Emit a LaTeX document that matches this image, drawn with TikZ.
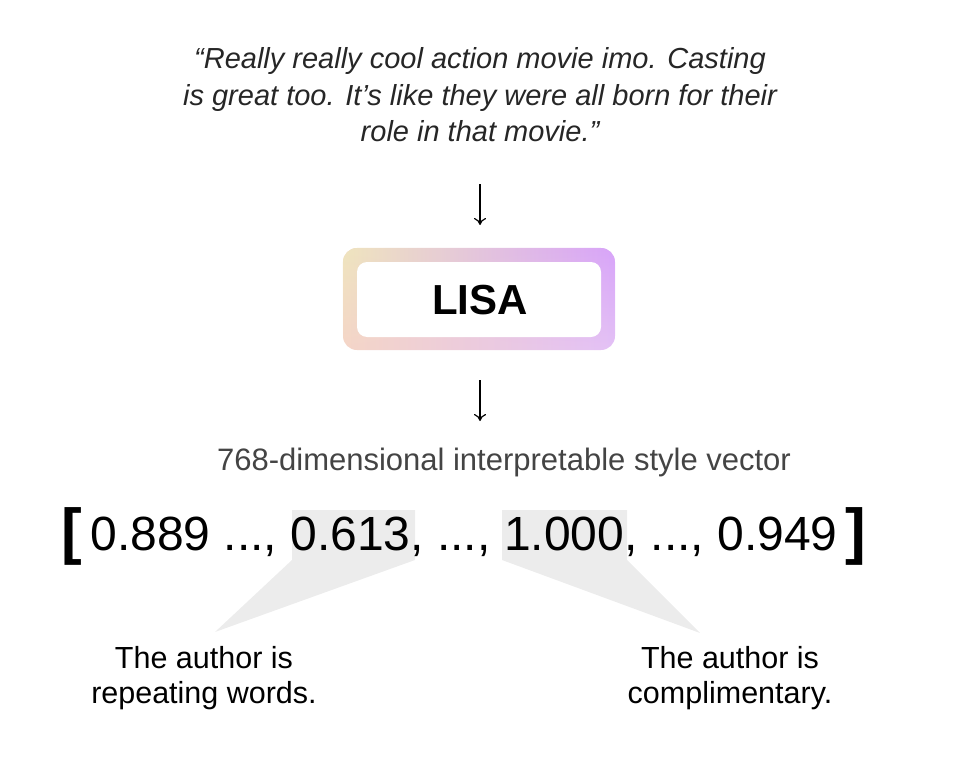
\documentclass[tikz,border=0pt]{standalone}
\usepackage{fontspec}
\setmainfont{Liberation Sans}
\usetikzlibrary{arrows.meta,fadings}
\definecolor{hl}{HTML}{ECECEC}
\definecolor{gbl}{HTML}{F5D5C8}
\definecolor{gbr}{HTML}{E4C2F6}
\definecolor{gtl}{HTML}{EFE5BE}
\definecolor{gtr}{HTML}{D8A4FA}
\definecolor{subgray}{HTML}{444444}
\tikzset{
  txt/.style={inner sep=0pt, align=center},
  flow/.style={-{To[length=7pt,width=12pt]}, line width=1.2pt},
  callout/.style={fill=hl, draw=none}
}
\begin{document}
\begin{tikzpicture}[x=1pt,y=-1pt]
\useasboundingbox (0,0) rectangle (961,760);
% quote
\node[txt, font=\fontsize{29}{36.5}\selectfont\itshape, text=black!85] (quote) at (480,95)
  {“Really really cool action movie imo. Casting\\is great too. It’s like they were all born for their\\role in that movie.”};
% LISA box
\shade[left color=gbl, right color=gbr, rounded corners=14pt] (343,248) rectangle (615,350);
\shade[left color=gtl, right color=gtr, rounded corners=14pt, path fading=south] (343,248) rectangle (615,350);
\fill[white, rounded corners=10pt] (357,262) rectangle (601,337);
\node[txt, font=\fontsize{42}{50}\selectfont\bfseries] (lisa) at (480,300) {LISA};
% arrows
\coordinate (a1s) at (480,184);
\coordinate (a1e) at (480,225);
\coordinate (a2s) at (480,380);
\coordinate (a2e) at (480,421);
\draw[flow] (a1s) -- (a1e);
\draw[flow] (a2s) -- (a2e);
% subtitle
\node[txt, font=\fontsize{31}{34}\selectfont, text=subgray] (sub) at (504,462) {768-dimensional interpretable style vector};
% highlights
\fill[callout] (292,510) -- (415,510) -- (415,560) -- (215,632) -- (292,560) -- cycle;
\fill[callout] (502,510) -- (627,510) -- (627,560) -- (700,633) -- (502,560) -- cycle;
% vector
\node[txt, font=\fontsize{62}{62}\selectfont\bfseries] (lb) at (72,536) {[};
\node[txt, font=\fontsize{62}{62}\selectfont\bfseries] (rb) at (856,536) {]};
\node[txt, font=\fontsize{48}{52}\selectfont] (vec) at (464,537) {0.889 ..., 0.613, ..., 1.000, ..., 0.949};
% labels
\node[txt, font=\fontsize{30.5}{35}\selectfont] (lab1) at (204,678) {The author is\\repeating words.};
\node[txt, font=\fontsize{30.5}{35}\selectfont] (lab2) at (730,678) {The author is\\complimentary.};
\end{tikzpicture}
\end{document}
